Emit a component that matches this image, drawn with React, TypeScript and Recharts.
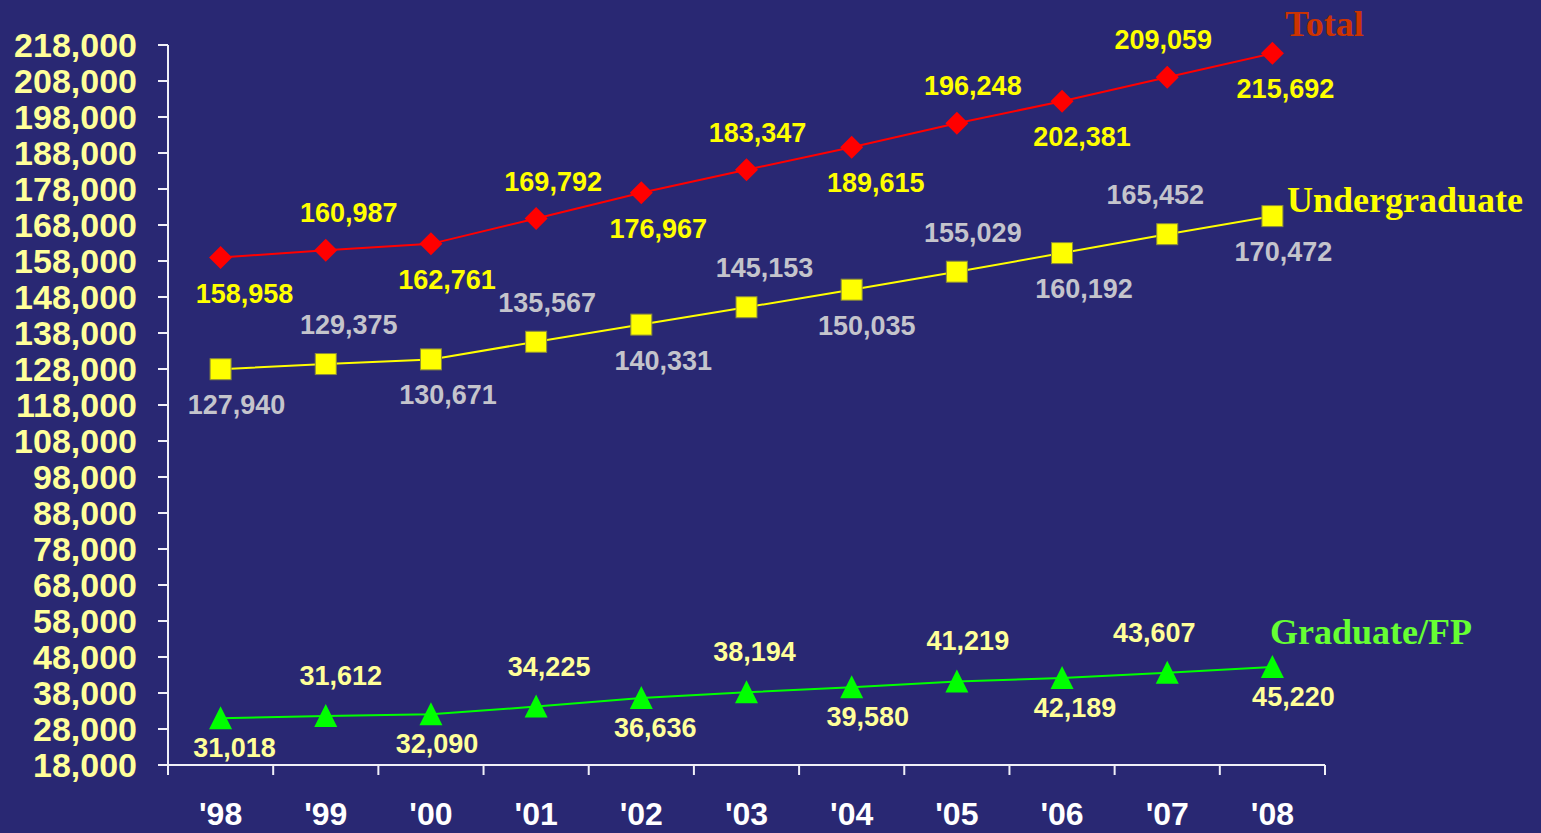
import { LineChart, Line, XAxis, YAxis } from 'recharts'

const years = ["'98", "'99", "'00", "'01", "'02", "'03", "'04", "'05", "'06", "'07", "'08"]
const total = [158958, 160987, 162761, 169792, 176967, 183347, 189615, 196248, 202381, 209059, 215692]
const undergrad = [127940, 129375, 130671, 135567, 140331, 145153, 150035, 155029, 160192, 165452, 170472]
const graduate = [31018, 31612, 32090, 34225, 36636, 38194, 39580, 41219, 42189, 43607, 45220]
const yTicks = [18000, 28000, 38000, 48000, 58000, 68000, 78000, 88000, 98000, 108000, 118000, 128000, 138000, 148000, 158000, 168000, 178000, 188000, 198000, 208000, 218000]

// label nudges (px), layout only
const totalDx = [24, 23, 16, 17, 17, 11, 24, 16, 20, -4, 13]
const undergradDx = [16, 23, 17, 11, 22, 18, 15, 16, 22, -12, 11]
const graduateDx = [14, 15, 6, 13, 14, 8, 16, 11, 13, -13, 21]

const chartData = years.map((year, i) => ({
  slot: i,
  year,
  total: total[i],
  undergrad: undergrad[i],
  graduate: graduate[i],
}))

const edges = years.map((_, i) => i - 0.5).concat([years.length - 0.5])

const BG = '#292873'
const FONT = '"Liberation Sans", Arial, sans-serif'
const fmt = (v: number) => v.toLocaleString('en-US')

function valueLabel(cx: number, cy: number, value: number, dx: number, dy: number, color: string) {
  return (
    <text
      x={cx + dx}
      y={cy + dy}
      textAnchor="middle"
      dominantBaseline="central"
      fill={color}
      fontSize={27}
      fontWeight="bold"
      fontFamily={FONT}
    >
      {fmt(value)}
    </text>
  )
}

const TotalDot = (props: any) => {
  const { cx, cy, index, payload } = props
  const h = 11.5
  const dy = index % 2 === 0 ? 36 : -37
  return (
    <g key={`t${index}`}>
      <polygon points={`${cx},${cy - h} ${cx + h},${cy} ${cx},${cy + h} ${cx - h},${cy}`} fill="#ff0000" />
      {valueLabel(cx, cy, payload.total, totalDx[index], dy, '#ffff00')}
    </g>
  )
}

const UndergradDot = (props: any) => {
  const { cx, cy, index, payload } = props
  const s = 21
  const dy = index % 2 === 0 ? 36 : -39
  return (
    <g key={`u${index}`}>
      <rect x={cx - s / 2} y={cy - s / 2} width={s} height={s} fill="#ffff00" stroke="#8c8c3c" strokeWidth={1} />
      {valueLabel(cx, cy, payload.undergrad, undergradDx[index], dy, '#c4c4cc')}
    </g>
  )
}

const GraduateDot = (props: any) => {
  const { cx, cy, index, payload } = props
  const dy = index % 2 === 0 ? 30 : -40
  return (
    <g key={`g${index}`}>
      <polygon points={`${cx},${cy - 12} ${cx + 11.5},${cy + 11} ${cx - 11.5},${cy + 11}`} fill="#00ff00" />
      {valueLabel(cx, cy, payload.graduate, graduateDx[index], dy, '#ffff99')}
    </g>
  )
}

const YearTick = (props: any) => {
  const { x, y, payload, width } = props
  const idx = payload.value + 0.5
  if (idx < 0 || idx >= years.length) return <g />
  const band = (width || 1157) / years.length
  return (
    <text
      x={x + band / 2}
      y={y + 37}
      textAnchor="middle"
      dominantBaseline="central"
      fill="#ffffff"
      fontSize={32}
      fontWeight="bold"
      fontFamily={FONT}
    >
      {years[idx]}
    </text>
  )
}

export default function App() {
  return (
    <div style={{ position: 'absolute', left: 0, top: 0, width: 1541, height: 833, background: BG, overflow: 'hidden' }}>
      <LineChart width={1541} height={833} data={chartData} margin={{ top: 45, right: 216, bottom: 0, left: 0 }}>
        <XAxis
          dataKey="slot"
          type="number"
          domain={[-0.5, years.length - 0.5]}
          ticks={edges}
          interval={0}
          height={68}
          tickSize={10}
          tickMargin={2}
          stroke="#f0f0f8"
          strokeWidth={2}
          tick={<YearTick />}
        />
        <YAxis
          type="number"
          domain={[18000, 218000]}
          ticks={yTicks}
          interval={0}
          width={168}
          tickSize={10}
          tickMargin={21}
          stroke="#f0f0f8"
          strokeWidth={2}
          tickFormatter={fmt}
          tick={{ fill: '#ffff99', fontSize: 34, fontWeight: 'bold', fontFamily: FONT }}
        />
        <Line
          dataKey="graduate"
          stroke="#00ff00"
          strokeWidth={2}
          dot={GraduateDot}
          activeDot={false}
          isAnimationActive={false}
        />
        <Line
          dataKey="undergrad"
          stroke="#ffff00"
          strokeWidth={2}
          dot={UndergradDot}
          activeDot={false}
          isAnimationActive={false}
        />
        <Line
          dataKey="total"
          stroke="#ff0000"
          strokeWidth={2}
          dot={TotalDot}
          activeDot={false}
          isAnimationActive={false}
        />
      </LineChart>
      <svg
        width={1541}
        height={833}
        style={{ position: 'absolute', left: 0, top: 0, pointerEvents: 'none' }}
        fontFamily='"Liberation Serif", "Times New Roman", serif'
        fontWeight="bold"
        fontSize={36}
      >
        <text x={1285} y={36} fill="#cc3300">Total</text>
        <text x={1287} y={212} fill="#ffff00">Undergraduate</text>
        <text x={1270} y={644} fill="#66ff33">Graduate/FP</text>
      </svg>
    </div>
  )
}
